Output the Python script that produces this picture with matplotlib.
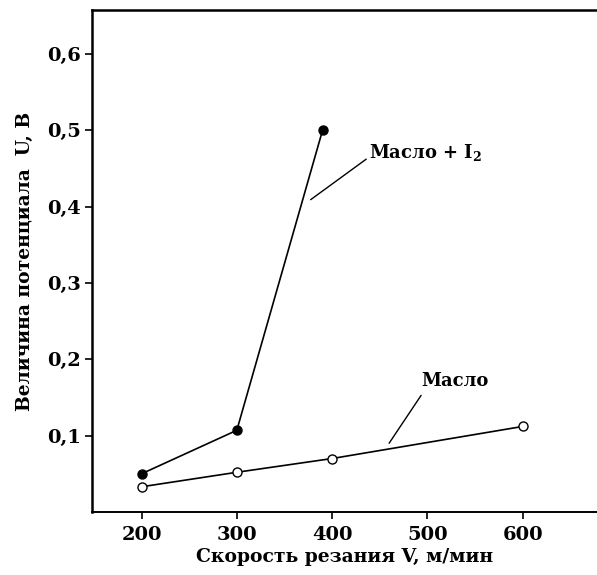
import matplotlib
matplotlib.use("Agg")
import matplotlib.pyplot as plt

# cutting speed, m/min
speed_iodine = [200, 300, 390]
speed_oil = [200, 300, 400, 600]

# potential, V
u_iodine = [0.050, 0.107, 0.500]
u_oil = [0.033, 0.052, 0.070, 0.112]

x_ticks = [200, 300, 400, 500, 600]
y_ticks = [0.1, 0.2, 0.3, 0.4, 0.5, 0.6]
y_tick_labels = ["0,1", "0,2", "0,3", "0,4", "0,5", "0,6"]

plt.rcParams["font.family"] = ["DejaVu Serif"]
plt.rcParams["font.weight"] = "bold"
plt.rcParams["mathtext.default"] = "regular"

fig = plt.figure(figsize=(5.97, 5.75), dpi=100)
ax = fig.add_axes([0.1541, 0.1096, 0.8459, 0.8725])

ax.plot(speed_iodine, u_iodine, color="black", lw=1.2,
        marker="o", ms=6.5, mfc="black", mec="black")
ax.plot(speed_oil, u_oil, color="black", lw=1.2,
        marker="o", ms=6.5, mfc="white", mec="black", mew=1.0)

ax.set_xlim(148, 678)
ax.set_ylim(0, 0.657)
ax.set_xticks(x_ticks)
ax.set_yticks(y_ticks)
ax.set_yticklabels(y_tick_labels)
ax.tick_params(direction="out", length=5, width=1.2, labelsize=14)
ax.tick_params(axis="y", pad=3)
ax.tick_params(axis="x", pad=5)

for side in ["top", "left", "bottom"]:
    ax.spines[side].set_linewidth(1.8)
ax.spines["bottom"].set_linewidth(1.4)
ax.spines["right"].set_visible(False)

ax.set_xlabel("Скорость резания V, м/мин", fontsize=13.5, fontweight="bold", labelpad=3)
ax.set_ylabel("Величина потенциала  U, В", fontsize=13.5, fontweight="bold", labelpad=9)

# curve labels with leader lines
ax.annotate("Масло + I$_2$", xy=(377.5, 0.409), xytext=(438.7, 0.463),
            fontsize=13, fontweight="bold", va="baseline", ha="left",
            arrowprops=dict(arrowstyle="-", color="black", lw=1.0,
                            shrinkA=0, shrinkB=0, relpos=(0, 0.3)))
ax.annotate("Масло", xy=(459.8, 0.090), xytext=(493.4, 0.165),
            fontsize=13, fontweight="bold", va="baseline", ha="left",
            arrowprops=dict(arrowstyle="-", color="black", lw=1.0,
                            shrinkA=0, shrinkB=0, relpos=(0, -0.3)))

fig.savefig("out.png", dpi=100)
